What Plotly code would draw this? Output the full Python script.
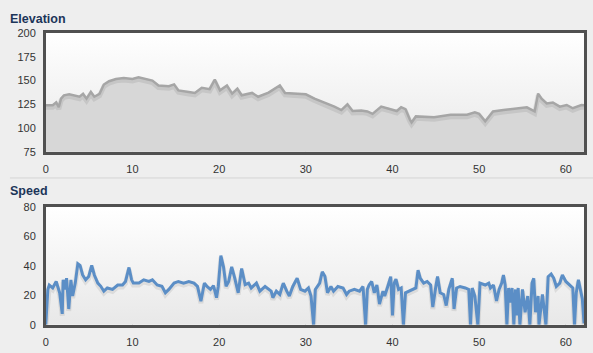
import plotly.graph_objects as go

# ---------------- data ----------------
elev_km = [0, 0.8, 1.2, 1.5, 1.76, 2.1, 2.7, 3.3, 3.9, 4.3, 4.7, 5.2, 5.6, 6.2, 6.7, 7.3,
           8.1, 9.0, 10.0, 10.7, 11.5, 12.3, 13.0, 14.2, 14.8, 15.3, 16.5, 17.2, 18.0, 18.9,
           19.5, 20.1, 20.9, 21.5, 22.1, 22.6, 23.8, 24.5, 25.7, 27.0, 27.6, 28.7, 30.0, 31.0,
           32.4, 33.3, 34.1, 34.8, 35.4, 36.4, 37.1, 37.7, 38.7, 39.8, 40.5, 41.0, 41.5, 42.0,
           42.2, 42.7, 44.8, 46.7, 48.6, 49.5, 50.0, 50.7, 51.6, 52.8, 54.3, 55.5, 56.4, 56.8,
           57.2, 57.8, 58.5, 59.3, 60.1, 60.8, 61.8, 62.1]
elev_m = [124, 124, 127, 122, 131, 134.5, 135.6, 134, 133, 136, 131, 138, 133, 136, 145.8, 149.3,
          151.7, 152.7, 151.7, 153.4, 151.7, 150, 144.8, 144, 146, 139.7, 138, 137, 142.4, 141,
          151, 139.7, 144.8, 136.3, 141.4, 134.5, 137, 133, 137.3, 144.8, 137, 136.3, 135.6, 131,
          126, 122.6, 119, 125, 118, 118.5, 117.5, 115, 122.6, 120, 118, 122, 120, 109,
          106, 112.3, 111.3, 114, 114, 116.5, 115, 107.2, 117.5, 119, 120.9, 121.9, 117.5, 136.3,
          131, 126, 127, 122.6, 124.3, 120.9, 124.3, 124]

speed_km = [0.0, 0.24, 0.4, 0.8, 1.2, 1.6, 1.9, 2.0, 2.2, 2.4, 2.65, 2.9, 3.1, 3.4, 3.7, 3.95,
            4.25, 4.6, 4.95, 5.3, 5.6, 6.0, 6.35, 6.7, 7.1, 7.7, 8.3, 8.85, 9.2, 9.6, 9.9, 10.1,
            10.75, 11.3, 11.9, 12.3, 12.85, 13.4, 13.8, 14.2, 14.8, 15.3, 15.9, 16.5, 17.1, 17.5,
            17.9, 18.3, 18.6, 19.0, 19.35, 19.7, 19.9, 20.2, 20.5, 20.8, 21.1, 21.45, 21.8, 22.2,
            22.6, 23.0, 23.4, 23.7, 24.3, 24.7, 25.3, 26.0, 26.2, 26.6, 27.0, 27.4, 27.8, 28.1,
            28.5, 29.0, 29.4, 29.9, 30.3, 30.6, 30.9, 31.1, 31.6, 31.9, 32.2, 32.5, 32.9, 33.2,
            33.7, 34.3, 34.7, 35.0, 35.6, 36.2, 36.6, 36.9, 37.1, 37.3, 37.6, 37.9, 38.2, 38.5,
            38.9, 39.1, 39.4, 39.8, 40.0, 40.2, 40.4, 40.7, 41.0, 41.26, 41.5, 41.9, 42.3, 42.7,
            42.95, 43.2, 43.6, 44.0, 44.4, 44.65, 45.0, 45.2, 45.5, 45.9, 46.2, 46.5, 46.9, 47.1,
            47.4, 47.8, 48.4, 48.8, 49.0, 49.2, 49.5, 49.85, 50.1, 50.7, 51.1, 51.3, 51.65, 52.0,
            52.3, 52.6, 52.8, 53.0, 53.2, 53.4, 53.6, 53.8, 54.0, 54.2, 54.3, 54.5, 54.7, 55.0,
            55.3, 55.6, 55.85, 56.1, 56.3, 56.5, 56.8, 56.9, 57.3, 57.6, 57.7, 57.96, 58.3, 58.6,
            58.9, 59.3, 59.6, 60.0, 60.45, 60.8, 61.0, 61.2, 61.45, 61.7, 61.9, 62.1]
speed_kmh = [0, 24, 27, 25, 29.4, 21.7, 7.4, 30.5, 24, 31.6, 10.7, 30.5, 19.5, 28.3, 41.5, 40.4,
             33.8, 30.5, 32.7, 40.4, 33.8, 28.3, 26.1, 22.8, 25, 24, 27, 27, 29.4, 38.9, 30.5, 28.3,
             28.3, 30.5, 29.4, 30.5, 27, 26.1, 21.7, 24, 28.3, 29.4, 28.3, 29.4, 28.3, 26.1,
             16, 28.3, 26, 24, 26.6, 18.4, 26, 47, 39.3, 26.1, 29.4, 39.3, 31.6, 21.7,
             38.2, 27.2, 28.3, 25, 28.3, 22.8, 26, 22.8, 18.4, 22.8, 20.6, 28.3, 22.8, 19.5,
             26, 31.6, 24, 22.8, 25, 19.5, 0, 24, 28.3, 36, 33, 21.7, 26, 22.8,
             26, 25, 20.6, 22.8, 24, 22.8, 26, 0, 24, 27, 29.4, 21.7, 27, 14,
             22.8, 19.5, 25, 32.7, 6.3, 28.3, 31, 24, 25, 0, 21.7, 22.8, 24, 25,
             37.1, 31.6, 28.3, 29.4, 27, 12, 26, 32.7, 21.7, 20.6, 13, 24, 31.6, 10.7,
             25, 26, 25, 24, 0, 25, 19.5, 0, 28.3, 27, 28.3, 25, 27, 16.2,
             24, 28.3, 33.8, 27, 0, 25, 15, 25, 0, 24, 6.3, 25, 0, 24,
             8.5, 19.5, 0, 28.3, 31.6, 8.5, 19.5, 0, 20.6, 6.3, 0, 32.7, 34.5, 31.6,
             26, 28.3, 33.8, 29.4, 27, 25, 0, 21.7, 30.5, 21.7, 17.5, 1]

x_ticks = [0, 10, 20, 30, 40, 50, 60]
elev_ticks = [75, 100, 125, 150, 175, 200]
speed_ticks = [0, 20, 40, 60, 80]
titles = ["Elevation", "Speed"]

# ---------------- layout constants ----------------
W, H = 593, 353
X_RANGE = [0, 62.1]
ELEV_RANGE = [75, 200]
SPEED_RANGE = [0, 80]

def ydom(top_px, bot_px):
    return [1 - bot_px / H, 1 - top_px / H]

xdom = [43 / W, 584 / W]
elev_dom = ydom(28, 151)
speed_dom = ydom(208, 330)

# data units per pixel (for the drop shadow offset)
elev_px = (ELEV_RANGE[1] - ELEV_RANGE[0]) / (151 - 28)
speed_px = (SPEED_RANGE[1] - SPEED_RANGE[0]) / (330 - 208)

fig = go.Figure()

# background gradients of plot areas
for xa, ya, rng in [("x", "y", ELEV_RANGE), ("x2", "y2", SPEED_RANGE)]:
    fig.add_trace(go.Scatter(
        x=[X_RANGE[0], X_RANGE[1], X_RANGE[1], X_RANGE[0], X_RANGE[0]],
        y=[rng[0], rng[0], rng[1], rng[1], rng[0]],
        xaxis=xa, yaxis=ya, mode="none", fill="toself",
        fillgradient=dict(type="vertical", colorscale=[[0, "#e8e8e8"], [1, "#ffffff"]]),
        hoverinfo="skip", showlegend=False))

# elevation area
fig.add_trace(go.Scatter(x=elev_km, y=elev_m, xaxis="x", yaxis="y", mode="lines",
                         line=dict(color="rgba(0,0,0,0)", width=0), fill="tozeroy",
                         fillcolor="#d7d7d7", showlegend=False, hoverinfo="skip"))
fig.add_trace(go.Scatter(x=elev_km, y=[v - 2 * elev_px for v in elev_m], xaxis="x", yaxis="y",
                         mode="lines", line=dict(color="rgba(0,0,0,0.08)", width=5),
                         showlegend=False, hoverinfo="skip"))
fig.add_trace(go.Scatter(x=elev_km, y=elev_m, xaxis="x", yaxis="y", mode="lines",
                         line=dict(color="#a6a6a6", width=2.5), showlegend=False))

# speed line
fig.add_trace(go.Scatter(x=speed_km, y=[v - 2 * speed_px for v in speed_kmh], xaxis="x2", yaxis="y2",
                         mode="lines", line=dict(color="rgba(0,0,0,0.08)", width=5),
                         showlegend=False, hoverinfo="skip"))
fig.add_trace(go.Scatter(x=speed_km, y=speed_kmh, xaxis="x2", yaxis="y2", mode="lines",
                         line=dict(color="#5b8ec6", width=3), showlegend=False))

axis_common = dict(showline=True, linecolor="#505050", linewidth=2.5, mirror=True,
                   showgrid=True, gridcolor="#cccccc", gridwidth=1, zeroline=False,
                   ticks="outside", ticklen=5, tickcolor="rgba(0,0,0,0)",
                   tickfont=dict(family="Liberation Sans, Arial", size=11, color="#333333"),
                   fixedrange=True)

title_font = dict(family="Liberation Sans, Arial", size=12.5, color="#1c3559")

fig.update_layout(
    width=W, height=H, autosize=False,
    margin=dict(l=0, r=0, t=0, b=0),
    paper_bgcolor="#eeeeee", plot_bgcolor="#f7f7f7",
    showlegend=False,
    xaxis=dict(domain=xdom, range=X_RANGE, tickvals=x_ticks, anchor="y", **axis_common),
    yaxis=dict(domain=elev_dom, range=ELEV_RANGE, tickvals=elev_ticks, anchor="x", **axis_common),
    xaxis2=dict(domain=xdom, range=X_RANGE, tickvals=x_ticks, anchor="y2", **axis_common),
    yaxis2=dict(domain=speed_dom, range=SPEED_RANGE, tickvals=speed_ticks, anchor="x2", **axis_common),
    annotations=[
        dict(text="<b>%s</b>" % titles[0], xref="paper", yref="paper", x=6 / W, y=1 - 13 / H,
             xanchor="left", yanchor="middle", showarrow=False, borderpad=0, font=title_font),
        dict(text="<b>%s</b>" % titles[1], xref="paper", yref="paper", x=6 / W, y=1 - 192 / H,
             xanchor="left", yanchor="middle", showarrow=False, borderpad=0, font=title_font),
    ],
    shapes=[dict(type="line", xref="paper", yref="paper", x0=7 / W, x1=1, y0=1 - 178 / H, y1=1 - 178 / H,
                 line=dict(color="#d4d4d4", width=1))],
)

fig.write_html("out.html")
